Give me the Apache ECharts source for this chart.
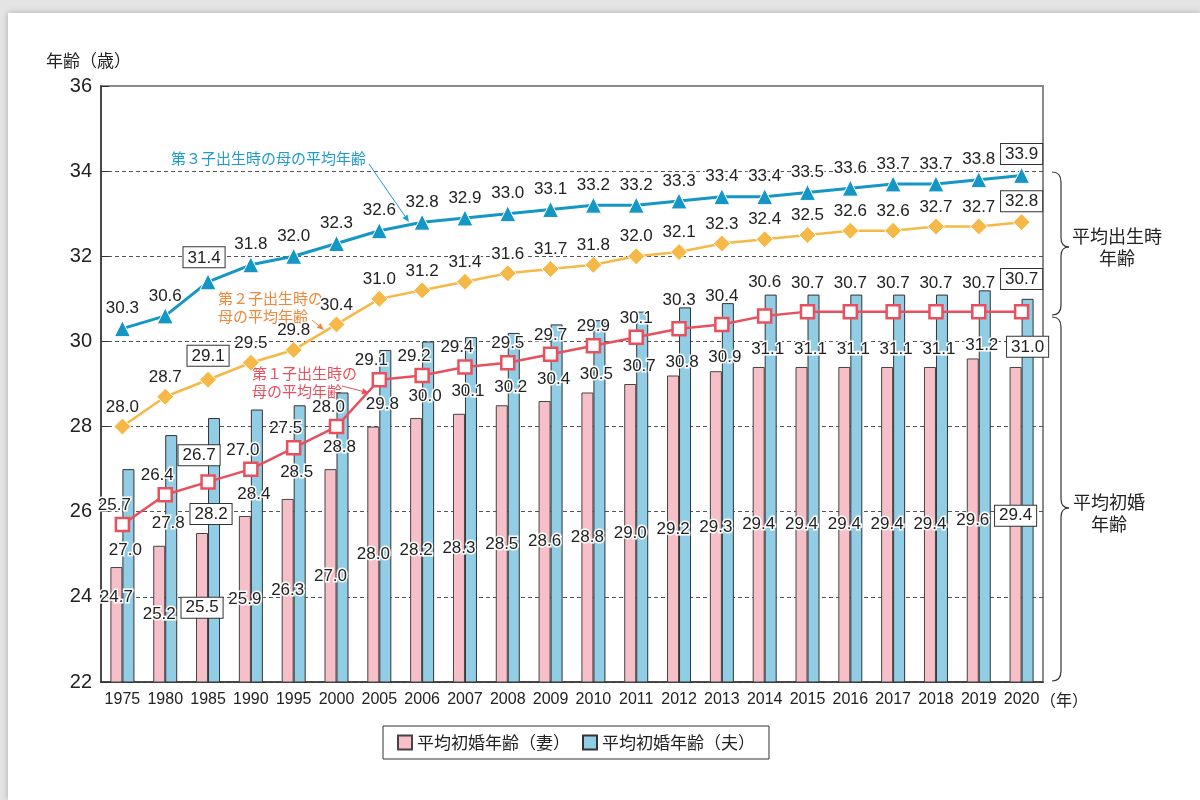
<!DOCTYPE html>
<html>
<head>
<meta charset="utf-8">
<script src="https://cdn.jsdelivr.net/npm/echarts@6/dist/echarts.min.js"></script>
<style>
  html, body { margin: 0; padding: 0; background: #e4e4e4; }
  #panel { position: absolute; left: 8px; top: 13px; width: 1192px; height: 787px; background: #fff; box-shadow: 0 0 6px rgba(0,0,0,0.25); }
  #chart { position: absolute; left: 0; top: 0; width: 1200px; height: 800px; }
</style>
</head>
<body>
<div id="panel"></div>
<div id="chart"></div>
<script>
// 年次
var years = ["1975", "1980", "1985", "1990", "1995", "2000", "2005", "2006", "2007", "2008", "2009",
  "2010", "2011", "2012", "2013", "2014", "2015", "2016", "2017", "2018", "2019", "2020"];
// 平均初婚年齢
var wifeAge = [24.7, 25.2, 25.5, 25.9, 26.3, 27.0, 28.0, 28.2, 28.3, 28.5, 28.6,
  28.8, 29.0, 29.2, 29.3, 29.4, 29.4, 29.4, 29.4, 29.4, 29.6, 29.4];
var husbandAge = [27.0, 27.8, 28.2, 28.4, 28.5, 28.8, 29.8, 30.0, 30.1, 30.2, 30.4,
  30.5, 30.7, 30.8, 30.9, 31.1, 31.1, 31.1, 31.1, 31.1, 31.2, 31.0];
// 母の平均出生時年齢
var firstChild = [25.7, 26.4, 26.7, 27.0, 27.5, 28.0, 29.1, 29.2, 29.4, 29.5, 29.7,
  29.9, 30.1, 30.3, 30.4, 30.6, 30.7, 30.7, 30.7, 30.7, 30.7, 30.7];
var secondChild = [28.0, 28.7, 29.1, 29.5, 29.8, 30.4, 31.0, 31.2, 31.4, 31.6, 31.7,
  31.8, 32.0, 32.1, 32.3, 32.4, 32.5, 32.6, 32.6, 32.7, 32.7, 32.8];
var thirdChild = [30.3, 30.6, 31.4, 31.8, 32.0, 32.3, 32.6, 32.8, 32.9, 33.0, 33.1,
  33.2, 33.2, 33.3, 33.4, 33.4, 33.5, 33.6, 33.7, 33.7, 33.8, 33.9];
// 枠付きで表示する年（1985, 2020）
var boxedIdx = [2, 21];

var numFont = '"Liberation Sans", Arial, "Noto Sans CJK JP", sans-serif';
var jpFont = '"Noto Sans CJK JP", sans-serif';

function fmt(p) {
  return p.value.toFixed(1);
}

var boxStyle = {
  backgroundColor: "#fff",
  borderColor: "#333",
  borderWidth: 1,
  padding: [2, 4, 1, 4],
  textBorderWidth: 0,
};

// 各系列のデータ（枠付きラベルや位置調整を付ける）
function buildData(values, extra) {
  return values.map(function (v, i) {
    var item = { value: v };
    var lab = extra ? extra(i) : null;
    if (boxedIdx.indexOf(i) >= 0) {
      lab = Object.assign({}, boxStyle, lab || {});
    }
    if (lab) item.label = lab;
    return item;
  });
}

var baseLabel = {
  show: true,
  formatter: fmt,
  color: "#222",
  fontSize: 17,
  fontFamily: numFont,
  textBorderColor: "#fff",
  textBorderWidth: 3,
};

// 夫の棒のラベル：上端からの下げ幅（初期の年はもっと下）
var husbandShift = { 0: 27, 1: 34, 2: 40, 3: 30, 4: 13, 21: -8 };

// 第1子ラベルの位置調整
function firstShift(i) {
  if (i === 2) return { offset: [-9, -6] };
  if (i === 21) return { offset: [0, -12] };
  if (i === 15) return { offset: [0, -14] };
  if (i >= 13) return { offset: [0, -9] };
  if (i >= 9) return { offset: [0, 0] };
  return null;
}

function arrow(x1, y1, x2, y2, color) {
  var dx = x2 - x1, dy = y2 - y1;
  var len = Math.sqrt(dx * dx + dy * dy);
  var ux = dx / len, uy = dy / len;
  var hl = 7, hw = 3;
  var bx = x2 - ux * hl, by = y2 - uy * hl;
  return {
    type: "group",
    children: [
      { type: "line", shape: { x1: x1, y1: y1, x2: bx, y2: by }, style: { stroke: color, lineWidth: 1 } },
      {
        type: "polygon",
        shape: { points: [[x2, y2], [bx - uy * hw, by + ux * hw], [bx + uy * hw, by - ux * hw]] },
        style: { fill: color },
      },
    ],
  };
}

// 波かっこ（右側）
function brace(x, y1, y2, ym) {
  var st = { fill: "none", stroke: "#333", lineWidth: 1.2 };
  var xv = x + 9, xt = x + 17;
  return {
    type: "group",
    children: [
      { type: "bezierCurve", shape: { x1: x, y1: y1, cpx1: xv, cpy1: y1, x2: xv, y2: y1 + 10 }, style: st },
      { type: "line", shape: { x1: xv, y1: y1 + 10, x2: xv, y2: ym - 9 }, style: st },
      { type: "bezierCurve", shape: { x1: xv, y1: ym - 9, cpx1: xv, cpy1: ym, x2: xt, y2: ym }, style: st },
      { type: "bezierCurve", shape: { x1: xt, y1: ym, cpx1: xv, cpy1: ym, x2: xv, y2: ym + 9 }, style: st },
      { type: "line", shape: { x1: xv, y1: ym + 9, x2: xv, y2: y2 - 10 }, style: st },
      { type: "bezierCurve", shape: { x1: xv, y1: y2 - 10, cpx1: xv, cpy1: y2, x2: x, y2: y2 }, style: st },
    ],
  };
}

function txt(x, y, text, color, size, align) {
  return {
    type: "text",
    x: x,
    y: y,
    style: {
      text: text,
      fill: color,
      font: size + "px " + jpFont,
      align: align || "left",
      verticalAlign: "middle",
    },
  };
}

var chart = echarts.init(document.getElementById("chart"));
var option = {
  animation: false,
  textStyle: { fontFamily: numFont },
  grid: {
    left: 101,
    right: 157,
    top: 86,
    bottom: 118,
    show: true,
    borderColor: "#8a8a8a",
    borderWidth: 2,
    backgroundColor: "transparent",
  },
  legend: {
    left: 383,
    top: 726,
    padding: [8, 14, 8, 14],
    borderColor: "#333",
    borderWidth: 1,
    itemWidth: 14,
    itemHeight: 14,
    itemGap: 12,
    icon: "rect",
    textStyle: { fontFamily: jpFont, fontSize: 17, color: "#222" },
    data: ["平均初婚年齢（妻）", "平均初婚年齢（夫）"],
  },
  xAxis: {
    type: "category",
    data: years,
    axisLine: { lineStyle: { color: "#333", width: 1.5 } },
    axisTick: { inside: true, length: 5, lineStyle: { color: "#555" } },
    axisLabel: { color: "#222", fontSize: 16, margin: 10, interval: 0 },
  },
  yAxis: {
    type: "value",
    min: 22,
    max: 36,
    interval: 2,
    axisLine: { show: true, lineStyle: { color: "#333", width: 1.5 } },
    axisTick: { show: true, inside: true, length: 8, lineStyle: { color: "#333" } },
    axisLabel: { color: "#222", fontSize: 20, margin: 9 },
    splitLine: {
      lineStyle: {
        type: [4, 3],
        color: ["#555", "#555", "#555", "#555", "#555", "#555", "#555", "rgba(0,0,0,0)"],
      },
    },
  },
  series: [
    {
      name: "平均初婚年齢（妻）",
      type: "bar",
      barWidth: 12,
      barGap: "0%",
      itemStyle: { color: "#f7bfc8", borderColor: "#444", borderWidth: 1 },
      label: Object.assign({}, baseLabel, { position: "inside" }),
      data: buildData(wifeAge, function (i) {
        if (i === 0) return { offset: [0, -27] };
        if (i === 21) return { offset: [0, -9] };
        return null;
      }),
    },
    {
      name: "平均初婚年齢（夫）",
      type: "bar",
      barWidth: 12,
      barGap: "0%",
      itemStyle: { color: "#92cde6", borderColor: "#333", borderWidth: 1 },
      label: Object.assign({}, baseLabel, { position: "insideTop", distance: 46, offset: [-3, 0] }),
      data: buildData(husbandAge, function (i) {
        return { offset: [i === 21 ? 0 : -3, husbandShift[i] || 0] };
      }),
    },
    {
      name: "第1子",
      type: "line",
      z: 4,
      symbol: "rect",
      symbolSize: 13,
      lineStyle: { color: "#e9505e", width: 2.5 },
      itemStyle: { color: "#fff", borderColor: "#e9505e", borderWidth: 2.5 },
      label: Object.assign({}, baseLabel, { position: "top", distance: 3, offset: [-8, 0] }),
      data: buildData(firstChild, firstShift),
    },
    {
      name: "第2子",
      type: "line",
      z: 4,
      symbol: "diamond",
      symbolSize: 17,
      lineStyle: { color: "#f6b847", width: 2.5 },
      itemStyle: { color: "#f6b847", borderColor: "#fff", borderWidth: 1 },
      label: Object.assign({}, baseLabel, { position: "top", distance: 2 }),
      data: buildData(secondChild, function (i) {
        if (i === 2) return { offset: [0, -3] };
        return null;
      }),
    },
    {
      name: "第3子",
      type: "line",
      z: 4,
      symbol: "triangle",
      symbolSize: 16,
      lineStyle: { color: "#1597c6", width: 3 },
      itemStyle: { color: "#1597c6", borderColor: "#fff", borderWidth: 1 },
      label: Object.assign({}, baseLabel, { position: "top", distance: 3 }),
      data: buildData(thirdChild, function (i) {
        if (i === 2) return { offset: [-4, -3] };
        return null;
      }),
    },
  ],
  graphic: [
    txt(46, 61, "年齢（歳）", "#222", 17),
    txt(1040, 700, "（年）", "#222", 16),
    txt(171, 158, "第３子出生時の母の平均年齢", "#1d9bcb", 15),
    arrow(369, 164, 409, 222, "#1d9bcb"),
    txt(218, 298, "第２子出生時の", "#f0883a", 15),
    txt(218, 316, "母の平均年齢", "#f0883a", 15),
    arrow(312, 320, 324, 330, "#f0883a"),
    txt(252, 373, "第１子出生時の", "#e9505e", 15),
    txt(252, 391, "母の平均年齢", "#e9505e", 15),
    arrow(342, 386, 369, 393, "#e9505e"),
    brace(1052, 172, 315, 247),
    brace(1052, 317, 681, 508),
    txt(1117, 236, "平均出生時", "#222", 18, "center"),
    txt(1117, 258, "年齢", "#222", 18, "center"),
    txt(1109, 502, "平均初婚", "#222", 18, "center"),
    txt(1109, 524, "年齢", "#222", 18, "center"),
  ],
};
chart.setOption(option);
</script>
</body>
</html>
